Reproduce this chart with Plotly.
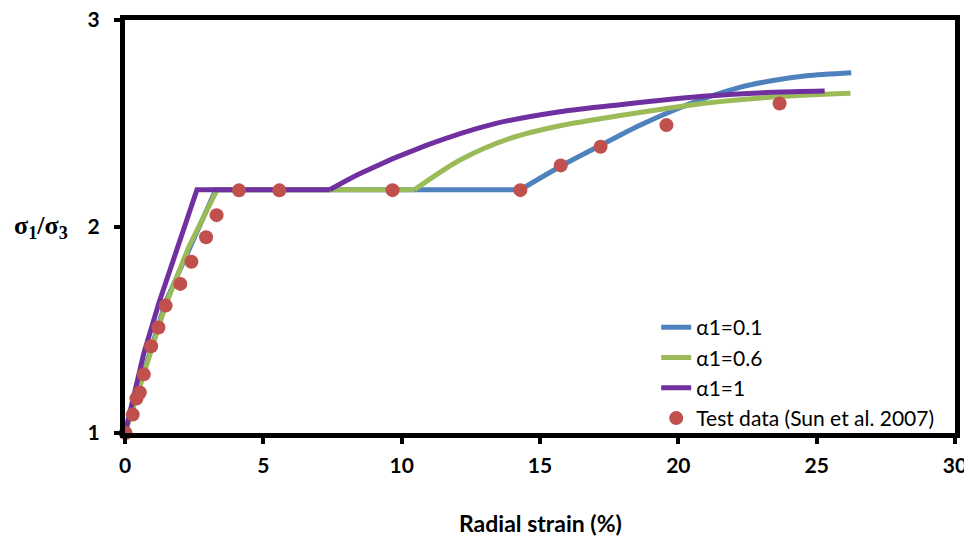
import plotly.graph_objects as go

# ---- data ----
# rising + flat part of each model curve
blue_lin_x = [0, 0.68, 1.47, 3.28, 14.29]
blue_lin_y = [1, 1.30, 1.635, 2.178, 2.178]
# hardening part of each model curve
blue_cur_x = [14.29, 15.75, 17.19, 18.61, 19.81, 21.02, 22.22, 23.42, 24.63, 26.25]
blue_cur_y = [2.178, 2.292, 2.393, 2.49, 2.562, 2.624, 2.674, 2.707, 2.73, 2.745]

green_lin_x = [0, 0.68, 1.47, 2.3, 3.33, 10.46]
green_lin_y = [1, 1.29, 1.62, 1.90, 2.178, 2.178]
green_cur_x = [10.46, 12.11, 13.92, 15.72, 17.17, 18.61, 21.02, 23.42, 26.22]
green_cur_y = [2.178, 2.322, 2.427, 2.488, 2.522, 2.552, 2.598, 2.627, 2.645]

purple_lin_x = [0, 0.68, 1.22, 2.6, 7.4]
purple_lin_y = [1, 1.385, 1.627, 2.178, 2.178]
purple_cur_x = [7.4, 8.5, 10.91, 13.31, 15.72, 17.89, 21.02, 23.42, 25.29]
purple_cur_y = [2.178, 2.257, 2.394, 2.496, 2.556, 2.59, 2.632, 2.65, 2.656]

test_x = [0.02, 0.28, 0.415, 0.535, 0.68, 0.945, 1.21, 1.47, 2.0, 2.40, 2.93, 3.31, 4.12, 5.58,
          9.67, 14.29, 15.75, 17.19, 19.57, 23.66]
test_y = [1.0, 1.089, 1.167, 1.196, 1.284, 1.42, 1.511, 1.617, 1.722, 1.829, 1.948, 2.055, 2.175, 2.175,
          2.176, 2.176, 2.296, 2.386, 2.491, 2.596]

names = ["α1=0.1", "α1=0.6", "α1=1", "Test data (Sun et al. 2007)"]
x_ticks = [0, 5, 10, 15, 20, 25, 30]
x_tick_labels = ["0", "5", "10", "15", "20", "25", "30"]
y_ticks = [1, 2, 3]
y_tick_labels = ["1", "2", "3"]

BLUE, GREEN, PURPLE, RED = "#4F81BD", "#9BBB59", "#7030A0", "#C0504D"
FONT = "Lato"

fig = go.Figure()
series = [(blue_lin_x, blue_lin_y, blue_cur_x, blue_cur_y, names[0], BLUE, "a"),
          (green_lin_x, green_lin_y, green_cur_x, green_cur_y, names[1], GREEN, "b"),
          (purple_lin_x, purple_lin_y, purple_cur_x, purple_cur_y, names[2], PURPLE, "c")]
for lx, ly, cx, cy, nm, col, g in series:
    fig.add_trace(go.Scatter(x=lx, y=ly, mode="lines", name=nm, legendgroup=g,
                             line=dict(color=col, width=5), cliponaxis=False))
    fig.add_trace(go.Scatter(x=cx, y=cy, mode="lines", name=nm, legendgroup=g, showlegend=False,
                             line=dict(color=col, width=5, shape="spline", smoothing=0.8),
                             cliponaxis=False))
fig.add_trace(go.Scatter(x=test_x, y=test_y, mode="markers", name=names[3], legendgroup="d",
                         marker=dict(color=RED, size=14), cliponaxis=False))

axis_common = dict(showline=True, linewidth=5, linecolor="black", mirror=True,
                   ticks="outside", ticklen=6, tickwidth=4, tickcolor="black",
                   showgrid=False, zeroline=False, automargin=False,
                   ticklabeloverflow="allow",
                   tickfont=dict(family=FONT, size=21, color="black"))

fig.update_layout(
    width=964, height=535,
    margin=dict(l=116.5, r=17, t=12, b=110.3),
    paper_bgcolor="white", plot_bgcolor="white",
    showlegend=True,
    legend=dict(x=0.640, y=0.305, xanchor="left", yanchor="top",
                bgcolor="rgba(0,0,0,0)", font=dict(family=FONT, size=21, color="black"),
                tracegroupgap=0),
    xaxis=dict(range=[0, 30], tickvals=x_ticks, ticktext=["<b>%s</b>" % t for t in x_tick_labels],
               ticklabelstandoff=4, **axis_common),
    yaxis=dict(range=[1, 3], tickvals=y_ticks, ticktext=["<b>%s</b>" % t for t in y_tick_labels],
               ticklabelstandoff=10, **axis_common),
    annotations=[
        dict(text="<b>Radial strain (%)</b>", xref="paper", yref="paper", x=0.5, y=-0.219,
             xanchor="center", yanchor="middle", showarrow=False,
             font=dict(family=FONT, size=23, color="black")),
        dict(text="<b>σ<sub>1</sub>/σ<sub>3</sub></b>", xref="paper", yref="paper",
             x=-0.1017, y=0.498, xanchor="center", yanchor="middle", showarrow=False,
             font=dict(family="Liberation Serif", size=26, color="black")),
    ],
)

fig.write_html("out.html")
